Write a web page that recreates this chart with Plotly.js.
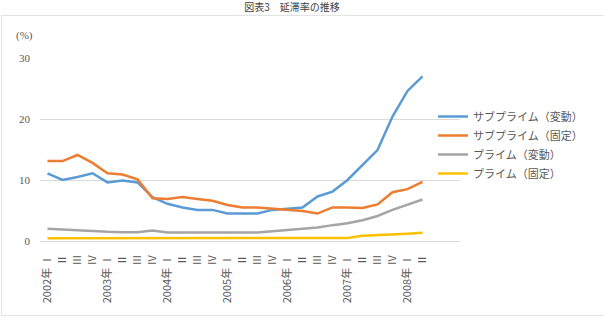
<!DOCTYPE html>
<html>
<head>
<meta charset="utf-8">
<script src="https://cdn.plot.ly/plotly-3.0.1.min.js"></script>
<style>html,body{margin:0;padding:0;background:#fff;}#chart{width:604px;height:323px;}</style>
</head>
<body>
<div id="chart"></div>
<script>
const quarterLabels = [
  "2002年 Ⅰ","Ⅱ","Ⅲ","Ⅳ",
  "2003年 Ⅰ","Ⅱ","Ⅲ","Ⅳ",
  "2004年 Ⅰ","Ⅱ","Ⅲ","Ⅳ",
  "2005年 Ⅰ","Ⅱ","Ⅲ","Ⅳ",
  "2006年 Ⅰ","Ⅱ","Ⅲ","Ⅳ",
  "2007年 Ⅰ","Ⅱ","Ⅲ","Ⅳ",
  "2008年 Ⅰ","Ⅱ"
];
const seriesNames = ["サブプライム（変動）","サブプライム（固定）","プライム（変動）","プライム（固定）"];
const subprimeARM = [11.1,10.0,10.5,11.1,9.6,9.9,9.6,7.2,6.1,5.5,5.1,5.1,4.5,4.5,4.5,5.1,5.25,5.5,7.3,8.1,10.0,12.5,14.9,20.4,24.6,27.0];
const subprimeFRM = [13.1,13.1,14.1,12.8,11.1,10.9,10.1,7.0,6.9,7.2,6.9,6.6,5.9,5.5,5.5,5.3,5.1,4.9,4.5,5.5,5.5,5.4,6.0,8.0,8.5,9.7];
const primeARM    = [2.0,1.85,1.7,1.6,1.5,1.45,1.45,1.7,1.4,1.4,1.4,1.4,1.4,1.4,1.4,1.6,1.8,2.0,2.2,2.6,2.9,3.4,4.1,5.1,5.9,6.8];
const primeFRM    = [0.45,0.45,0.45,0.45,0.45,0.45,0.45,0.45,0.45,0.45,0.45,0.45,0.45,0.45,0.45,0.45,0.45,0.45,0.5,0.5,0.5,0.87,0.95,1.1,1.2,1.35];
const colors = ["#5B9BD5","#ED7D31","#A5A5A5","#FFC000"];
const yTicks = [0,10,20,30];

const xIdx = quarterLabels.map((_, i) => i);
const data = [subprimeARM, subprimeFRM, primeARM, primeFRM].map((ys, k) => ({
  x: xIdx, y: ys, type: "scatter", mode: "lines", name: seriesNames[k],
  line: {color: colors[k], width: 2.5}
}));

const font = {family: "'Noto Sans CJK JP', sans-serif", size: 11, color: "#595959"};
const numFont = {family: "'Liberation Serif', 'Noto Sans CJK JP', serif", size: 11, color: "#595959"};

const L = 40, R = 144, T = 58, B = 82, W = 604, H = 323;
const pw = W - L - R, ph = H - T - B;
const px = v => (v - L) / pw;
const py = v => (H - B - v) / ph;

const layout = {
  width: W, height: H,
  margin: {l: L, r: R, t: T, b: B, pad: 0},
  paper_bgcolor: "#ffffff", plot_bgcolor: "#ffffff",
  font: font,
  title: {text: "図表3　延滞率の推移", font: {family: font.family, size: 10, color: "#404040"},
          x: 292 / W, xanchor: "center", xref: "container", y: 1 - 7 / H, yanchor: "middle", yref: "container"},
  showlegend: true,
  legend: {x: px(433), xanchor: "left", y: py(102), yanchor: "top", font: font,
           bgcolor: "rgba(0,0,0,0)", borderwidth: 0},
  xaxis: {range: [-0.5, 27.5], tickmode: "array", tickvals: xIdx, ticktext: quarterLabels,
          tickangle: -90, ticks: "", showgrid: false, zeroline: false,
          showline: true, linecolor: "#d9d9d9", linewidth: 1,
          tickfont: font, ticklabelstandoff: 8, fixedrange: true},
  yaxis: {range: [0, 30], tickmode: "array", tickvals: yTicks, ticktext: yTicks.map(String),
          ticks: "", showgrid: true, gridcolor: "#d9d9d9", gridwidth: 1, zeroline: false,
          showline: false, tickfont: numFont, ticklabelstandoff: 9, fixedrange: true},
  annotations: [{text: "(%)", xref: "paper", yref: "paper", x: px(14), y: py(35),
                 xanchor: "left", yanchor: "middle", showarrow: false, font: numFont}],
  shapes: [
    {type: "line", xref: "paper", yref: "paper", x0: px(1), x1: px(606), y0: py(15.5), y1: py(15.5), line: {color: "#e3e3e3", width: 1}},
    {type: "line", xref: "paper", yref: "paper", x0: px(1), x1: px(606), y0: py(315.5), y1: py(315.5), line: {color: "#e3e3e3", width: 1}},
    {type: "line", xref: "paper", yref: "paper", x0: px(1.5), x1: px(1.5), y0: py(15.5), y1: py(315.5), line: {color: "#e3e3e3", width: 1}}
  ]
};

Plotly.newPlot("chart", data, layout, {displayModeBar: false, staticPlot: true});
</script>
</body>
</html>
